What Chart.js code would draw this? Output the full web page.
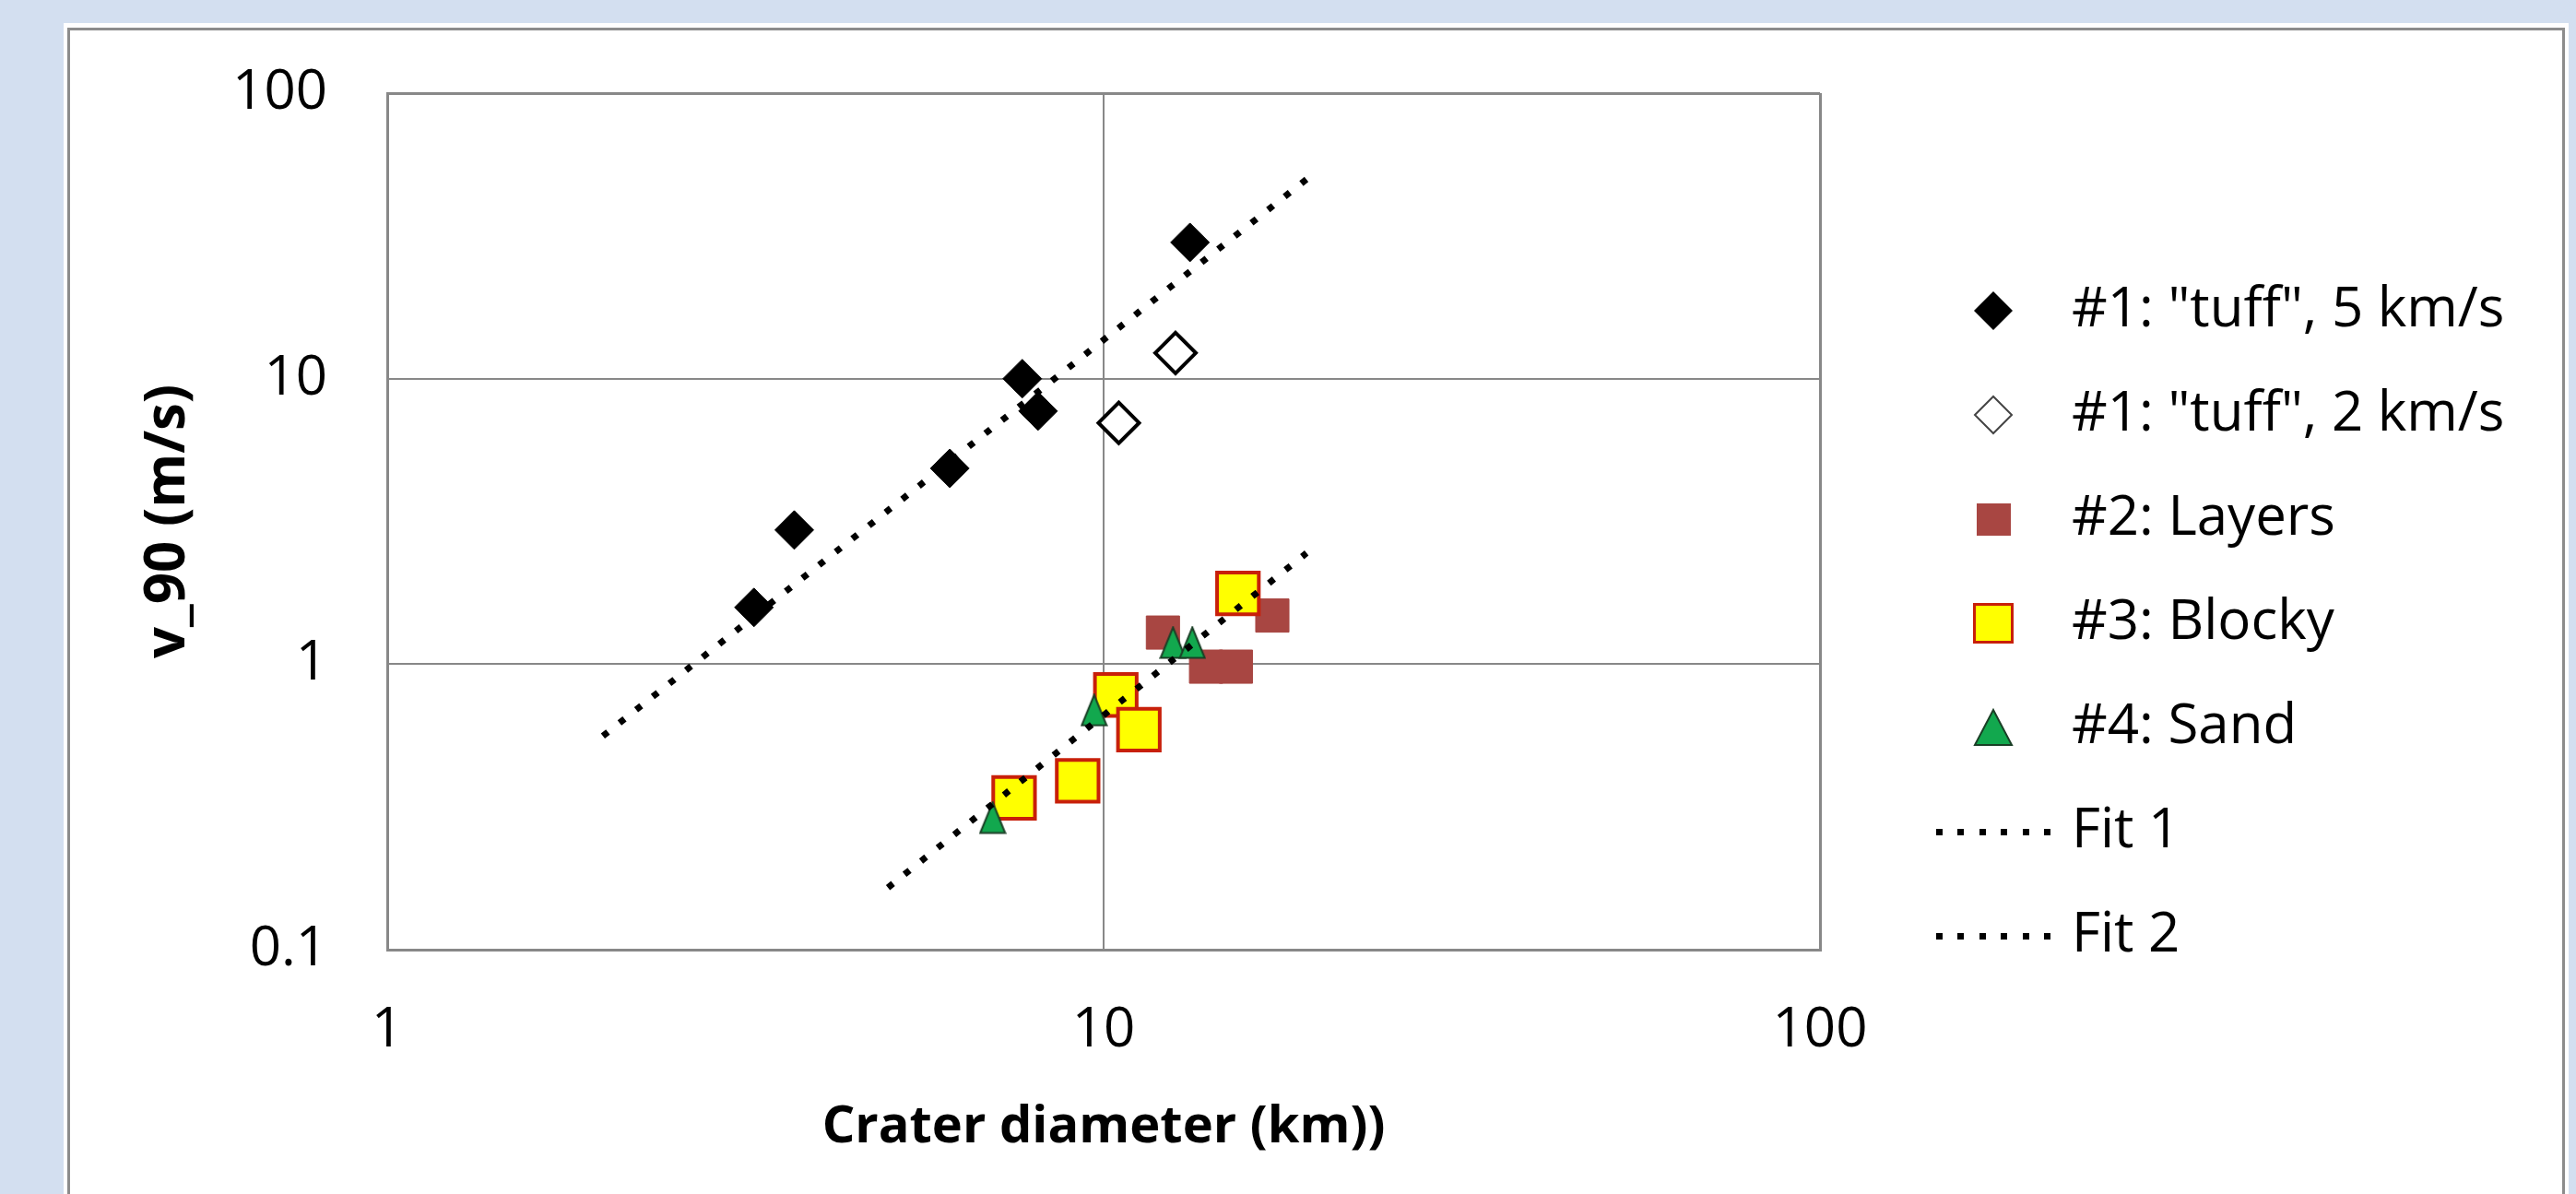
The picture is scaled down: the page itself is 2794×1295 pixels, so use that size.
<!DOCTYPE html>
<html>
<head>
<meta charset="utf-8">
<title>v_90 vs crater diameter</title>
<script src="https://cdn.jsdelivr.net/npm/chart.js@4.4.1/dist/chart.umd.min.js"></script>
<style>
    html, body { margin: 0; padding: 0; overflow: hidden; }
    body { width: 2794px; height: 1295px; background: #d3dff0; position: relative; }
    #panel { position: absolute; left: 69px; top: 25px; width: 2717px; height: 1300px; background: #fff; }
    #frame { position: absolute; left: 73px; top: 30px; width: 2703px; height: 1300px; border: 3px solid #8c8c8c; }
    #wrap { position: absolute; left: 0; top: 0; width: 2794px; height: 1295px; }
</style>
</head>
<body>
<div id="panel"></div>
<div id="frame"></div>
<div id="wrap"><canvas id="craterChart"></canvas></div>
<script>
// values: x = crater diameter (km), y = v_90 (m/s)
const tuff5X = [3.25, 3.7, 6.1, 7.7, 8.1, 13.2];
const tuff5Y = [1.58, 2.95, 4.85, 10.0, 7.7, 30];
const tuff2X = [10.5, 12.6];
const tuff2Y = [7.0, 12.3];
const layersX = [12.1, 13.9, 15.3, 17.2];
const layersY = [1.29, 0.98, 0.98, 1.48];
const blockyX = [7.5, 9.2, 10.4, 11.2, 15.4];
const blockyY = [0.34, 0.39, 0.78, 0.59, 1.77];
const sandX = [7.0, 9.7, 12.5, 13.3];
const sandY = [0.29, 0.69, 1.19, 1.19];
const fit1X = [2, 19.6];
const fit1Y = [0.56, 52];
const fit2X = [5, 19.2];
const fit2Y = [0.165, 2.45];

const seriesNames = ['#1: "tuff", 5 km/s', '#1: "tuff", 2 km/s', '#2: Layers', '#3: Blocky', '#4: Sand', 'Fit 1', 'Fit 2'];
const xTicks = [1, 10, 100];
const xTickLabels = ['1', '10', '100'];
const yTicks = [0.1, 1, 10, 100];
const yTickLabels = ['0.1', '1', '10', '100'];

const GRID = '#888888';
const BROWN = '#a84642';
const YELLOW = '#ffff00';
const RED = '#c8200a';
const GREEN = '#12a84e';
const DARKGREEN = '#1a3f26';
const FONT = "'Open Sans', sans-serif";
const FONT_SIZE = 60;

// legend geometry
const LEGEND_PAD = 53;
const BOX_W = 110;
const LEGEND_LEFT = 2054;

const pts = (xs, ys) => xs.map((x, i) => ({ x: x, y: ys[i] }));

function icon(w, h, draw) {
    const c = document.createElement('canvas');
    c.width = w;
    c.height = h;
    draw(c.getContext('2d'));
    return c;
}

// narrow triangle used for the sand markers
const sandMarker = icon(30, 36, g => {
    g.fillStyle = GREEN; g.strokeStyle = DARKGREEN; g.lineWidth = 2;
    g.beginPath(); g.moveTo(15, 1.5); g.lineTo(28.5, 34.5); g.lineTo(1.5, 34.5); g.closePath(); g.fill(); g.stroke();
});

const dotted = g => {
    g.fillStyle = '#000';
    for (let i = 0; i < 6; i++) g.fillRect(Math.round(i * 23.4), 22, 7, 7);
};
const legendIcons = [
    icon(124, 50, g => {
        g.fillStyle = '#000';
        g.beginPath(); g.moveTo(41, 25); g.lineTo(62, 4); g.lineTo(83, 25); g.lineTo(62, 46); g.closePath(); g.fill();
    }),
    icon(124, 50, g => {
        g.fillStyle = '#fff'; g.strokeStyle = '#444'; g.lineWidth = 2;
        g.beginPath(); g.moveTo(42, 25); g.lineTo(62, 5); g.lineTo(82, 25); g.lineTo(62, 45); g.closePath(); g.fill(); g.stroke();
    }),
    icon(124, 50, g => {
        g.fillStyle = BROWN;
        g.fillRect(44, 8, 37, 35);
    }),
    icon(124, 50, g => {
        g.fillStyle = YELLOW; g.fillRect(41, 4, 42, 42);
        g.strokeStyle = RED; g.lineWidth = 3; g.strokeRect(41.5, 4.5, 41, 41);
    }),
    icon(124, 50, g => {
        g.fillStyle = GREEN; g.strokeStyle = DARKGREEN; g.lineWidth = 2;
        g.beginPath(); g.moveTo(62, 6); g.lineTo(82, 44); g.lineTo(42, 44); g.closePath(); g.fill(); g.stroke();
    }),
    icon(124, 50, dotted),
    icon(124, 50, dotted)
];

// the legend reserves a narrow box next to the plot (keeps the plot width),
// then is moved right so the gap between plot and legend matches
const legendPlace = {
    id: 'legendPlace',
    afterLayout(chart) {
        const lg = chart.legend;
        lg.left = LEGEND_LEFT;
        lg.right = chart.width;
        lg.width = lg.right - lg.left;
    }
};

function build() {
    const ctx = document.getElementById('craterChart').getContext('2d');
    new Chart(ctx, {
        type: 'scatter',
        plugins: [legendPlace],
        data: {
            datasets: [{
                label: seriesNames[0],
                data: pts(tuff5X, tuff5Y),
                pointStyle: 'rectRot',
                pointRadius: 21,
                backgroundColor: '#000',
                borderColor: '#000',
                borderWidth: 1,
                order: 5
            }, {
                label: seriesNames[1],
                data: pts(tuff2X, tuff2Y),
                pointStyle: 'rectRot',
                pointRadius: 22,
                backgroundColor: '#fff',
                borderColor: '#000',
                borderWidth: 4,
                order: 4
            }, {
                label: seriesNames[2],
                data: pts(layersX, layersY),
                pointStyle: 'rect',
                pointRadius: 25.5,
                backgroundColor: BROWN,
                borderColor: BROWN,
                borderWidth: 1,
                order: 3
            }, {
                label: seriesNames[3],
                data: pts(blockyX, blockyY),
                pointStyle: 'rect',
                pointRadius: 32,
                backgroundColor: YELLOW,
                borderColor: RED,
                borderWidth: 4,
                order: 2
            }, {
                label: seriesNames[4],
                data: pts(sandX, sandY),
                pointStyle: sandMarker,
                pointRadius: 18,
                order: 1
            }, {
                label: seriesNames[5],
                data: pts(fit1X, fit1Y),
                showLine: true,
                pointRadius: 0,
                borderColor: '#000',
                borderWidth: 7,
                borderDash: [7, 16],
                order: 0
            }, {
                label: seriesNames[6],
                data: pts(fit2X, fit2Y),
                showLine: true,
                pointRadius: 0,
                borderColor: '#000',
                borderWidth: 7,
                borderDash: [7, 16],
                order: 0
            }]
        },
        options: {
            responsive: true,
            maintainAspectRatio: false,
            animation: false,
            events: [],
            layout: {
                padding: { left: 0, top: 97, right: 520, bottom: 40 }
            },
            plugins: {
                tooltip: { enabled: false },
                legend: {
                    position: 'right',
                    align: 'center',
                    maxWidth: 300,
                    labels: {
                        usePointStyle: true,
                        pointStyleWidth: BOX_W,
                        padding: LEGEND_PAD,
                        color: '#000',
                        font: { family: FONT, size: FONT_SIZE },
                        generateLabels: () => seriesNames.map((name, i) => ({
                            text: name,
                            pointStyle: legendIcons[i],
                            fillStyle: '#000',
                            strokeStyle: '#000',
                            lineWidth: 0,
                            hidden: false,
                            datasetIndex: i
                        }))
                    }
                }
            },
            scales: {
                x: {
                    type: 'logarithmic',
                    position: 'bottom',
                    min: 1,
                    max: 100,
                    afterBuildTicks: s => { s.ticks = xTicks.map(v => ({ value: v })); },
                    afterFit: s => { s.height = 225; },
                    ticks: {
                        autoSkip: false,
                        maxRotation: 0,
                        padding: 52,
                        color: '#000',
                        font: { family: FONT, size: FONT_SIZE },
                        callback: (v, i) => xTickLabels[i]
                    },
                    grid: {
                        color: GRID,
                        drawTicks: false,
                        lineWidth: c => (c.index === 0 || c.index === xTicks.length - 1) ? 3 : 2
                    },
                    border: { display: true, color: GRID, width: 3 },
                    title: {
                        display: true,
                        text: 'Crater diameter (km))',
                        color: '#000',
                        font: { family: FONT, size: 56, weight: 'bold', lineHeight: 1 },
                        padding: { top: 0, bottom: 4 }
                    }
                },
                y: {
                    type: 'logarithmic',
                    position: 'left',
                    min: 0.1,
                    max: 100,
                    afterBuildTicks: s => { s.ticks = yTicks.map(v => ({ value: v })); },
                    afterFit: s => { s.width = 420; },
                    ticks: {
                        autoSkip: false,
                        padding: 65,
                        color: '#000',
                        font: { family: FONT, size: FONT_SIZE },
                        callback: (v, i) => yTickLabels[i]
                    },
                    grid: {
                        color: GRID,
                        drawTicks: false,
                        lineWidth: c => (c.index === 0 || c.index === yTicks.length - 1) ? 3 : 2
                    },
                    border: { display: true, color: GRID, width: 3 },
                    title: {
                        display: true,
                        text: 'v_90 (m/s)',
                        color: '#000',
                        font: { family: FONT, size: 60, weight: 'bold', lineHeight: 1 },
                        padding: { top: 153, bottom: 0 }
                    }
                }
            }
        }
    });
}

Promise.all([
    document.fonts.load('60px "Open Sans"'),
    document.fonts.load('bold 60px "Open Sans"')
]).then(build, build);
</script>
</body>
</html>
